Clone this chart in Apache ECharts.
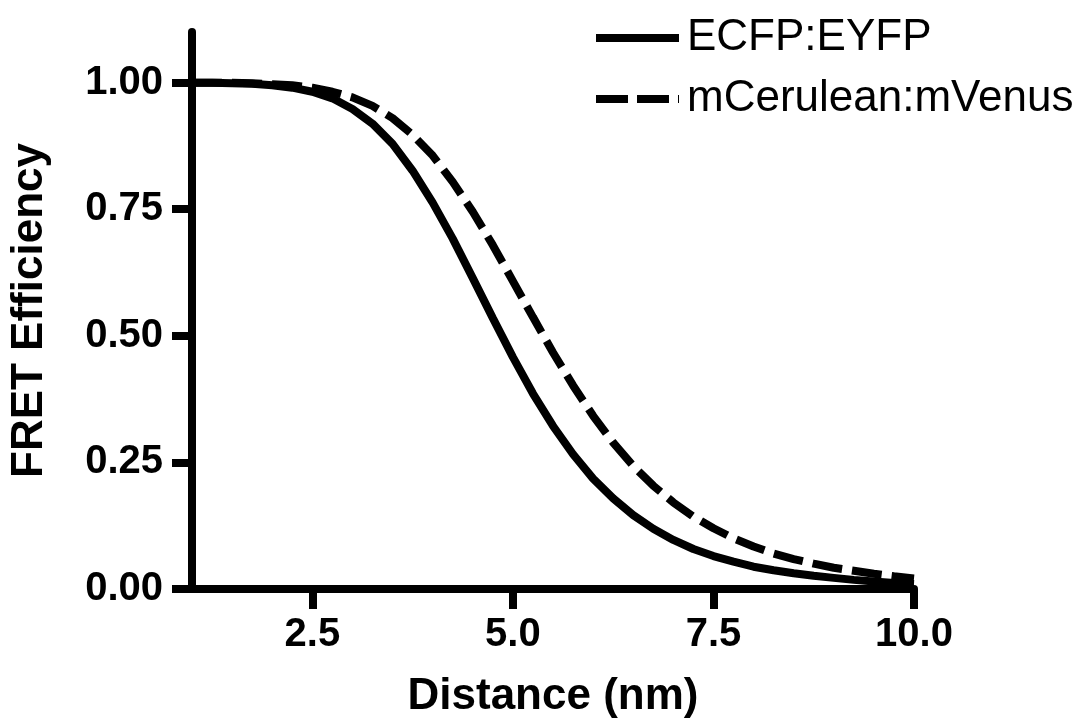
<!DOCTYPE html>
<html>
<head>
<meta charset="utf-8">
<script src="https://cdn.jsdelivr.net/npm/echarts@6/dist/echarts.min.js"></script>
<style>
  html, body { margin: 0; padding: 0; background: #fff; }
  #chart { width: 1083px; height: 724px; }
</style>
</head>
<body>
<div id="chart"></div>
<script>
// distance (nm), every 0.25 nm
var distance = [1, 1.25, 1.5, 1.75, 2, 2.25, 2.5, 2.75, 3, 3.25, 3.5, 3.75, 4, 4.25, 4.5, 4.75,
  5, 5.25, 5.5, 5.75, 6, 6.25, 6.5, 6.75, 7, 7.25, 7.5, 7.75, 8, 8.25, 8.5, 8.75, 9, 9.25, 9.5, 9.75, 10];
var ecfpEyfp = [1.000, 1.000, 0.999, 0.998, 0.995, 0.990, 0.982, 0.969, 0.948, 0.919, 0.879, 0.826,
  0.763, 0.692, 0.614, 0.535, 0.458, 0.386, 0.322, 0.266, 0.218, 0.179, 0.146, 0.119, 0.097, 0.079,
  0.065, 0.054, 0.044, 0.037, 0.031, 0.026, 0.022, 0.018, 0.015, 0.012, 0.010];
var mCeruleanMVenus = [1.000, 1.000, 1.000, 0.999, 0.997, 0.995, 0.990, 0.982, 0.971, 0.954, 0.930,
  0.897, 0.856, 0.804, 0.745, 0.679, 0.608, 0.537, 0.467, 0.402, 0.342, 0.289, 0.243, 0.204, 0.171,
  0.143, 0.120, 0.100, 0.084, 0.070, 0.059, 0.050, 0.042, 0.036, 0.030, 0.025, 0.021];
var xTicks = [2.5, 5, 7.5, 10];
var yTicks = [0, 0.25, 0.5, 0.75, 1];
var seriesNames = ['ECFP:EYFP', 'mCerulean:mVenus'];

var font = '"Liberation Sans", Arial, sans-serif';

function pairs(xs, ys) {
  return xs.map(function (x, i) { return [x, ys[i]]; });
}

var chart = echarts.init(document.getElementById('chart'), null, { renderer: 'canvas' });

chart.setOption({
  backgroundColor: '#fff',
  animation: false,
  grid: { left: 192, right: 169, top: 32, bottom: 135 },
  legend: [{
    data: [seriesNames[0]],
    left: 592, top: 13, padding: 0,
    itemWidth: 83, itemHeight: 50,
    itemStyle: { opacity: 0 },
    lineStyle: { width: 8, type: 'solid' },
    textStyle: { fontFamily: font, fontSize: 44, color: '#000', lineHeight: 50, padding: [0, 0, 0, 3] }
  }, {
    data: [seriesNames[1]],
    left: 592, top: 74, padding: 0,
    itemWidth: 83, itemHeight: 50,
    itemStyle: { opacity: 0 },
    lineStyle: { width: 8, type: [32, 9] },
    textStyle: { fontFamily: font, fontSize: 44, color: '#000', lineHeight: 50, padding: [0, 0, 0, 3] }
  }],
  xAxis: {
    type: 'value',
    min: 1, max: 10,
    name: 'Distance (nm)',
    nameLocation: 'middle',
    nameGap: 86,
    nameTextStyle: { fontFamily: font, fontSize: 44, fontWeight: 'bold', color: '#000' },
    axisLine: { show: true, onZero: false, lineStyle: { color: '#000', width: 8 } },
    axisTick: { show: true, length: 20, customValues: xTicks, lineStyle: { color: '#000', width: 8 } },
    axisLabel: {
      customValues: xTicks, margin: 26,
      fontFamily: font, fontSize: 40, fontWeight: 'bold', color: '#000',
      formatter: function (v) { return v.toFixed(1); }
    },
    splitLine: { show: false }
  },
  yAxis: {
    type: 'value',
    min: 0, max: 1.1,
    name: 'FRET Efficiency',
    nameLocation: 'middle',
    nameGap: 140,
    nameTextStyle: { fontFamily: font, fontSize: 44, fontWeight: 'bold', color: '#000' },
    axisLine: { show: true, lineStyle: { color: '#000', width: 8 } },
    axisTick: { show: true, length: 20, customValues: yTicks, lineStyle: { color: '#000', width: 8 } },
    axisLabel: {
      customValues: yTicks, margin: 29,
      fontFamily: font, fontSize: 40, fontWeight: 'bold', color: '#000',
      formatter: function (v) { return v.toFixed(2); }
    },
    splitLine: { show: false }
  },
  series: [{
    name: seriesNames[0],
    type: 'line',
    data: pairs(distance, ecfpEyfp),
    showSymbol: false,
    symbol: 'none',
    smooth: false,
    lineStyle: { color: '#000', width: 8, type: 'solid' },
    itemStyle: { color: '#000' },
    z: 3
  }, {
    name: seriesNames[1],
    type: 'line',
    data: pairs(distance, mCeruleanMVenus),
    showSymbol: false,
    symbol: 'none',
    smooth: false,
    lineStyle: { color: '#000', width: 8, type: [30, 10] },
    itemStyle: { color: '#000' },
    z: 2
  }]
});
</script>
</body>
</html>
